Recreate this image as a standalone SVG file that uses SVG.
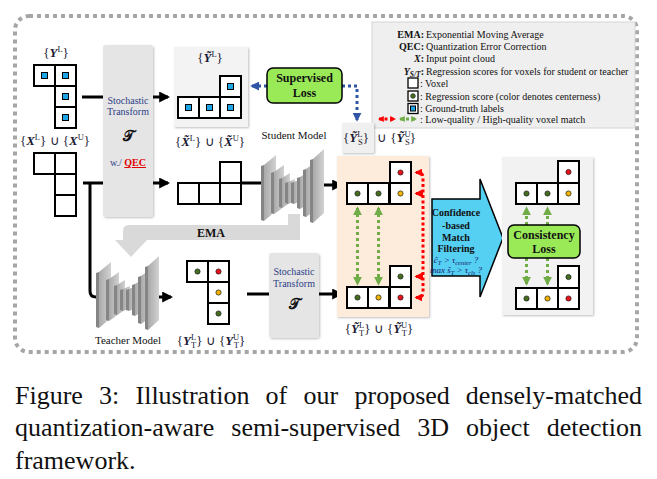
<svg xmlns="http://www.w3.org/2000/svg" width="657" height="479" viewBox="0 0 657 479">
<style>
.m{font-family:"Liberation Serif",serif;font-size:13px;fill:#1a1a33}
.mb{font-weight:bold;font-style:italic}
.s{font-size:8.5px}
.cell{fill:#fff;stroke:#000;stroke-width:2}
.gt{fill:#1ea5e6;stroke:#000;stroke-width:1}
.dg{fill:#446f22;stroke:#1a1a1a;stroke-width:.7}
.dr{fill:#e8121a;stroke:#1a1a1a;stroke-width:.7}
.dy{fill:#f0b400;stroke:#1a1a1a;stroke-width:.7}
.blk{fill:none;stroke:#000;stroke-width:3}
.grn{fill:none;stroke:#70ad47;stroke-width:3;stroke-dasharray:3 3}
.red{fill:none;stroke:#f00;stroke-width:3;stroke-dasharray:3 2.5}
.blu{fill:none;stroke:#2f55a4;stroke-width:3;stroke-dasharray:3 3}
.tr{fill:#e5e5e5}
.tt{font-family:"Liberation Serif",serif;font-size:10px;fill:#2e3f86;text-anchor:middle}
.scr{font-family:"DejaVu Serif","DejaVu Sans",serif;font-size:15px;font-weight:bold;fill:#111;text-anchor:middle}
.lg{font-family:"Liberation Serif",serif;font-size:10px;fill:#111}
.loss{fill:#9aea58;stroke:#000;stroke-width:1.5}
.lt{font-family:"Liberation Serif",serif;font-size:12px;font-weight:bold;text-anchor:middle;fill:#111}
.ft{font-family:"Liberation Serif",serif;font-size:10px;font-weight:bold;text-anchor:middle;fill:#111}
.ct{font-family:"Liberation Serif",serif;font-size:9px;font-style:italic;text-anchor:middle;fill:#1a1a6e}
.mt{font-family:"Liberation Serif",serif;font-size:11px;text-anchor:middle;fill:#111}
.cap{font-family:"Liberation Serif",serif;font-size:26px;fill:#111}
.face{fill:url(#gface)}
.edge{fill:#858585}
</style>
<defs>
<linearGradient id="gface" x1="0" y1="0" x2="1" y2="0"><stop offset="0" stop-color="#a9a9a9"/><stop offset="1" stop-color="#d2d2d2"/></linearGradient>
<filter id="sh" x="-10%" y="-10%" width="125%" height="125%"><feDropShadow dx="1" dy="1" stdDeviation="1.2" flood-color="#000" flood-opacity="0.25"/></filter>
<marker id="ak" viewBox="0 0 10 10" refX="8" refY="5" markerWidth="11" markerHeight="11" markerUnits="userSpaceOnUse" orient="auto"><path d="M0,0 L10,5 L0,10 z" fill="#000"/></marker>
<marker id="ag" viewBox="0 0 10 10" refX="8" refY="5" markerWidth="9" markerHeight="9" markerUnits="userSpaceOnUse" orient="auto-start-reverse"><path d="M0,0 L10,5 L0,10 z" fill="#70ad47"/></marker>
<marker id="ar" viewBox="0 0 10 10" refX="8" refY="5" markerWidth="8" markerHeight="8" markerUnits="userSpaceOnUse" orient="auto-start-reverse"><path d="M0,0 L10,5 L0,10 z" fill="#f00"/></marker>
<marker id="ab" viewBox="0 0 10 10" refX="8" refY="5" markerWidth="9" markerHeight="9" markerUnits="userSpaceOnUse" orient="auto"><path d="M0,0 L10,5 L0,10 z" fill="#2f55a4"/></marker>
<marker id="agS" viewBox="0 0 10 10" refX="8" refY="5" markerWidth="6" markerHeight="6" markerUnits="userSpaceOnUse" orient="auto-start-reverse"><path d="M0,0 L10,5 L0,10 z" fill="#70ad47"/></marker>
<marker id="arS" viewBox="0 0 10 10" refX="8" refY="5" markerWidth="6" markerHeight="6" markerUnits="userSpaceOnUse" orient="auto-start-reverse"><path d="M0,0 L10,5 L0,10 z" fill="#f00"/></marker>
<g id="unet">
<polygon class="edge" points="1,19 4,18 4,74 1,73"/><polygon class="face" points="4,18 16,8 16,64 4,74"/>
<polygon class="edge" points="11,26 14,25 14,67 11,66"/><polygon class="face" points="14,25 24,18 24,60 14,67"/>
<polygon class="edge" points="19,32 22,31 22,61 19,60"/><polygon class="face" points="22,31 30,26 30,56 22,61"/>
<polygon class="edge" points="25,36 28,35 28,57 25,56"/><polygon class="face" points="28,35 35,32 35,54 28,57"/>
<polygon class="edge" points="31,36 34,35 34,57 31,56"/><polygon class="face" points="34,35 41,32 41,54 34,57"/>
<polygon class="edge" points="37,31 40,30 40,62 37,61"/><polygon class="face" points="40,30 48,25 48,57 40,62"/>
<polygon class="edge" points="43,23 46,22 46,70 43,69"/><polygon class="face" points="46,22 56,15 56,63 46,70"/>
<polygon class="edge" points="50,13 53,12 53,76 50,75"/><polygon class="face" points="53,12 64,2 64,66 53,76"/>
</g>
</defs>

<rect width="657" height="479" fill="#fff"/>
<rect id="frame" x="15" y="16" width="622" height="336" rx="14" fill="none" stroke="#a6a6a6" stroke-width="4" stroke-dasharray="4 4"/>

<g id="legend">
<rect x="372" y="22" width="263" height="106" fill="#efefef" stroke="#d6d6d6" stroke-width="1"/>
<text class="lg" x="424" y="38" text-anchor="end" font-weight="bold">EMA:</text><text class="lg" x="426" y="38">Exponential Moving Average</text>
<text class="lg" x="424" y="50" text-anchor="end" font-weight="bold">QEC:</text><text class="lg" x="426" y="50">Quantization Error Correction</text>
<text class="lg" x="424" y="62" text-anchor="end" font-weight="bold"><tspan font-style="italic">X</tspan>:</text><text class="lg" x="426" y="62">Input point cloud</text>
<text class="lg" x="424" y="74.5" text-anchor="end" font-weight="bold"><tspan font-style="italic">Y</tspan><tspan font-size="7.5" font-style="italic" dy="2.5">S/T</tspan><tspan dy="-2.5">:</tspan></text><text class="lg" x="426" y="74.5">Regression scores for voxels for student or teacher</text>
<rect x="408" y="78" width="10" height="10" fill="#fff" stroke="#000" stroke-width="1.3"/><text class="lg" x="420" y="87">: Voxel</text>
<rect x="408" y="91" width="10" height="10" fill="#fff" stroke="#000" stroke-width="1.3"/><circle class="dg" cx="413" cy="96" r="2.3"/><text class="lg" x="420" y="99.5">: Regression score (color denotes centerness)</text>
<rect x="408" y="103.5" width="10" height="10" fill="#fff" stroke="#000" stroke-width="1.3"/><rect class="gt" x="410.5" y="106" width="5" height="5"/><text class="lg" x="420" y="112">: Ground-truth labels</text>
<path class="red" d="M379,119 H395" stroke-width="2.5" marker-start="url(#arS)" marker-end="url(#arS)"/>
<path class="grn" d="M400,119 H416" stroke-width="2.5" marker-start="url(#agS)" marker-end="url(#agS)"/>
<text class="lg" x="420" y="123">: Low-quality / High-quality voxel match</text>
</g>

<g id="connectors">
<path class="blk" d="M82,97 H104"/>
<path class="blk" d="M153,97 H168" marker-end="url(#ak)"/>
<path class="blk" d="M83,183 H104"/>
<path class="blk" d="M153,183 H168" marker-end="url(#ak)"/>
<path class="blk" d="M90,183 V291 Q90,297 96,297 H102"/>
<path class="blk" d="M241,183 H266"/>
<path class="blk" d="M320,185 H341" marker-end="url(#ak)"/>
<path class="blk" d="M158,297 H171" marker-end="url(#ak)"/>
<path class="blk" d="M247,294 H270"/>
<path class="blk" d="M319,294 H341" marker-end="url(#ak)"/>
<path class="blu" d="M267,86 H252" marker-end="url(#ab)"/>
<path class="blu" d="M342,86 H357 V120" marker-end="url(#ab)"/>
</g>

<g id="ema-arrow">
<path d="M300,214 H288 V225 H129 Q123,225 123,231 V240 H115 L131,257 L147,240 H300 Z" fill="#d9d9d9"/>
<text class="lt" x="211" y="237">EMA</text>
</g>

<g id="labeled-input">
<text class="m" x="56" y="57" text-anchor="middle">{<tspan class="mb">Y</tspan><tspan class="s" dy="-5">L</tspan><tspan dy="5">}</tspan></text>
<rect class="cell" x="34" y="65" width="21" height="21"/><rect class="cell" x="55" y="65" width="21" height="21"/><rect class="cell" x="55" y="86" width="21" height="21"/><rect class="cell" x="55" y="107" width="21" height="21"/>
<rect class="gt" x="41.5" y="72.5" width="6" height="6"/><rect class="gt" x="62.5" y="72.5" width="6" height="6"/><rect class="gt" x="62.5" y="93.5" width="6" height="6"/><rect class="gt" x="62.5" y="114.5" width="6" height="6"/>
<text class="m" x="55" y="145" text-anchor="middle">{<tspan class="mb">X</tspan><tspan class="s" dy="-5">L</tspan><tspan dy="5">} ∪ {</tspan><tspan class="mb">X</tspan><tspan class="s" dy="-5">U</tspan><tspan dy="5">}</tspan></text>
</g>

<g id="point-input">
<rect class="cell" x="34" y="153" width="21" height="21"/><rect class="cell" x="55" y="153" width="21" height="21"/><rect class="cell" x="55" y="174" width="21" height="21"/><rect class="cell" x="55" y="195" width="21" height="21"/>
</g>

<g id="transform-qec">
<rect class="tr" x="103" y="45" width="50" height="172" rx="3" filter="url(#sh)"/>
<text class="tt" x="128" y="104">Stochastic</text>
<text class="tt" x="128" y="115">Transform</text>
<text class="scr" x="128" y="141">𝒯</text>
<text class="tt" x="128" y="166" font-size="9"><tspan>w./ </tspan><tspan fill="#e00000" font-weight="bold" text-decoration="underline">QEC</tspan></text>
</g>

<g id="augmented-labels">
<rect x="174" y="47" width="74" height="80" fill="#f3f3f3" filter="url(#sh)"/>
<text class="m" x="210" y="62" text-anchor="middle">{<tspan class="mb">Ỹ</tspan><tspan class="s" dy="-5">L</tspan><tspan dy="5">}</tspan></text>
<rect class="cell" x="178" y="97" width="21" height="21"/><rect class="cell" x="199" y="97" width="21" height="21"/><rect class="cell" x="220" y="97" width="21" height="21"/><rect class="cell" x="220" y="76" width="21" height="21"/>
<rect class="gt" x="185.5" y="104.5" width="6" height="6"/><rect class="gt" x="206.5" y="104.5" width="6" height="6"/><rect class="gt" x="227.5" y="104.5" width="6" height="6"/><rect class="gt" x="227.5" y="83.5" width="6" height="6"/>
<text class="m" x="210" y="146" text-anchor="middle">{<tspan class="mb">X̃</tspan><tspan class="s" dy="-5">L</tspan><tspan dy="5">} ∪ {</tspan><tspan class="mb">X̃</tspan><tspan class="s" dy="-5">U</tspan><tspan dy="5">}</tspan></text>
</g>

<g id="augmented-points">
<rect class="cell" x="178" y="183" width="21" height="21"/><rect class="cell" x="199" y="183" width="21" height="21"/><rect class="cell" x="220" y="183" width="21" height="21"/><rect class="cell" x="220" y="162" width="21" height="21"/>
</g>

<g id="supervised-loss">
<rect class="loss" x="267" y="68" width="75" height="35" rx="6"/>
<text class="lt" x="304.5" y="82">Supervised</text>
<text class="lt" x="304.5" y="97">Loss</text>
</g>

<g id="student-model">
<text class="mt" x="294" y="139">Student Model</text>
<use href="#unet" transform="translate(260,147)"/>
</g>

<g id="student-labeled-pred">
<rect x="342" y="123" width="32" height="30" fill="#f0f0f0" filter="url(#sh)"/>
<text class="m" x="356" y="142" text-anchor="middle">{<tspan class="mb">Ỹ</tspan><tspan class="s" dy="-5">L</tspan><tspan class="s" dx="-4.5" dy="8">S</tspan><tspan dy="-3">}</tspan></text>
<text class="m" x="377" y="142">∪ {<tspan class="mb">Ỹ</tspan><tspan class="s" dy="-5">U</tspan><tspan class="s" dx="-5.5" dy="8">S</tspan><tspan dy="-3">}</tspan></text>
</g>

<g id="teacher-model">
<use href="#unet" transform="translate(95,254)"/>
<text class="mt" x="128" y="344">Teacher Model</text>
</g>

<g id="teacher-pred">
<rect class="cell" x="187" y="261" width="21" height="21"/><rect class="cell" x="208" y="261" width="21" height="21"/><rect class="cell" x="208" y="282" width="21" height="21"/><rect class="cell" x="208" y="303" width="21" height="21"/>
<circle class="dg" cx="197.5" cy="271.5" r="2.6"/><circle class="dr" cx="218.5" cy="271.5" r="2.6"/><circle class="dy" cx="218.5" cy="292.5" r="2.6"/><circle class="dg" cx="218.5" cy="313.5" r="2.6"/>
<text class="m" x="211" y="345" text-anchor="middle">{<tspan class="mb">Y</tspan><tspan class="s" dy="-5">L</tspan><tspan class="s" dx="-4.5" dy="8">T</tspan><tspan dy="-3">} ∪ {</tspan><tspan class="mb">Y</tspan><tspan class="s" dy="-5">U</tspan><tspan class="s" dx="-5.5" dy="8">T</tspan><tspan dy="-3">}</tspan></text>
</g>

<g id="transform-teacher">
<rect class="tr" x="269" y="253" width="50" height="85" rx="3" filter="url(#sh)"/>
<text class="tt" x="294" y="275">Stochastic</text>
<text class="tt" x="294" y="287">Transform</text>
<text class="scr" x="294" y="309">𝒯</text>
</g>

<g id="dense-matching">
<rect x="337" y="156" width="92" height="161" fill="#fdecdc" filter="url(#sh)"/>
<rect class="cell" x="390" y="162" width="21" height="21"/><rect class="cell" x="347" y="183" width="21" height="21"/><rect class="cell" x="368" y="183" width="21" height="21"/><rect class="cell" x="390" y="183" width="21" height="21"/>
<circle class="dr" cx="400.5" cy="172.5" r="2.6"/><circle class="dg" cx="357.5" cy="193.5" r="2.6"/><circle class="dg" cx="378.5" cy="193.5" r="2.6"/><circle class="dy" cx="400.5" cy="193.5" r="2.6"/>
<rect class="cell" x="390" y="266" width="21" height="21"/><rect class="cell" x="347" y="287" width="21" height="21"/><rect class="cell" x="368" y="287" width="21" height="21"/><rect class="cell" x="390" y="287" width="21" height="21"/>
<circle class="dg" cx="400.5" cy="276.5" r="2.6"/><circle class="dg" cx="357.5" cy="297.5" r="2.6"/><circle class="dy" cx="378.5" cy="297.5" r="2.6"/><circle class="dr" cx="400.5" cy="297.5" r="2.6"/>
<path class="grn" d="M357.5,208 V284" marker-start="url(#ag)" marker-end="url(#ag)"/>
<path class="grn" d="M378.5,208 V284" marker-start="url(#ag)" marker-end="url(#ag)"/>
<path class="red" d="M416,172.5 H418 Q423,172.5 423,177.5 V292.5 Q423,297.5 418,297.5 H416" marker-start="url(#ar)" marker-end="url(#ar)"/>
<path class="red" d="M423,193.5 H416" marker-end="url(#ar)"/>
<path class="red" d="M423,276.5 H416" marker-end="url(#ar)"/>
<text class="m" x="379" y="333" text-anchor="middle">{<tspan class="mb">Ỹ</tspan><tspan class="s" dy="-5">L</tspan><tspan class="s" dx="-4.5" dy="8">T</tspan><tspan dy="-3">} ∪ {</tspan><tspan class="mb">Ỹ</tspan><tspan class="s" dy="-5">U</tspan><tspan class="s" dx="-5.5" dy="8">T</tspan><tspan dy="-3">}</tspan></text>
</g>

<g id="match-filtering">
<path d="M432,199 H480 V179 L503,238 L480,297 V276 H432 Z" fill="#55cff2" stroke="#000" stroke-width="1.5" stroke-linejoin="miter"/>
<text class="ft" x="456" y="216">Confidence</text>
<text class="ft" x="456" y="229">-based</text>
<text class="ft" x="456" y="240.5">Match</text>
<text class="ft" x="456" y="251.5">Filtering</text>
<text class="ct" x="456" y="262.5">ĉ<tspan font-size="6.5" dy="2">T</tspan><tspan dy="-2"> &gt; τ</tspan><tspan font-size="6.5" dy="2">center</tspan><tspan dy="-2"> ?</tspan></text>
<text class="ct" x="456" y="272.5">max ŝ<tspan font-size="6.5" dy="2">T</tspan><tspan dy="-2"> &gt; τ</tspan><tspan font-size="6.5" dy="2">cls</tspan><tspan dy="-2"> ?</tspan></text>
</g>

<g id="consistency">
<rect x="502" y="157" width="91" height="158" fill="#f2f2f2" filter="url(#sh)"/>
<rect class="cell" x="558" y="161" width="21" height="22"/><rect class="cell" x="516" y="183" width="21" height="21"/><rect class="cell" x="537" y="183" width="21" height="21"/><rect class="cell" x="558" y="183" width="21" height="21"/>
<circle class="dr" cx="568.5" cy="172" r="2.6"/><circle class="dg" cx="526.5" cy="193.5" r="2.6"/><circle class="dg" cx="547.5" cy="193.5" r="2.6"/><circle class="dy" cx="568.5" cy="193.5" r="2.6"/>
<rect class="cell" x="558" y="266" width="21" height="22"/><rect class="cell" x="516" y="288" width="21" height="21"/><rect class="cell" x="537" y="288" width="21" height="21"/><rect class="cell" x="558" y="288" width="21" height="21"/>
<circle class="dg" cx="568.5" cy="277" r="2.6"/><circle class="dg" cx="526.5" cy="298.5" r="2.6"/><circle class="dy" cx="547.5" cy="298.5" r="2.6"/><circle class="dr" cx="568.5" cy="298.5" r="2.6"/>
<path class="grn" d="M526.5,225 V208" marker-end="url(#ag)"/>
<path class="grn" d="M547.5,225 V208" marker-end="url(#ag)"/>
<path class="grn" d="M526.5,258 V284" marker-end="url(#ag)"/>
<path class="grn" d="M547.5,258 V284" marker-end="url(#ag)"/>
<rect class="loss" x="508" y="225" width="72" height="33" rx="6"/>
<text class="lt" x="544" y="239">Consistency</text>
<text class="lt" x="544" y="253">Loss</text>
</g>

<g id="caption">
<text class="cap" y="404"><tspan x="15">Figure</tspan><tspan x="99">3:</tspan><tspan x="135.5">Illustration</tspan><tspan x="265.5">of</tspan><tspan x="303.5">our</tspan><tspan x="354.5">proposed</tspan></text>
<text class="cap" x="642" y="404" text-anchor="end">densely-matched</text>
<text class="cap" y="436"><tspan x="15">quantization-aware</tspan><tspan x="231.3">semi-supervised</tspan><tspan x="417.3">3D</tspan><tspan x="466.1">object</tspan></text>
<text class="cap" x="642" y="436" text-anchor="end">detection</text>
<text class="cap" x="15" y="469">framework.</text>
</g>
</svg>
